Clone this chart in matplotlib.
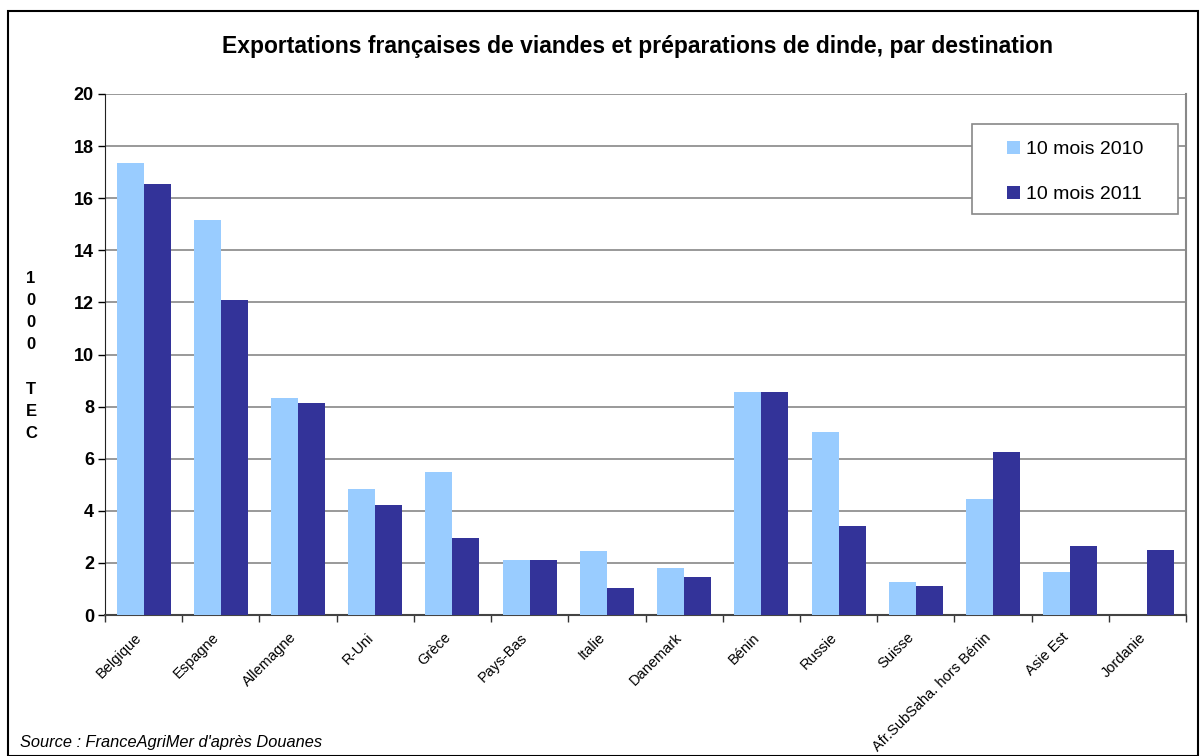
import numpy as np
import matplotlib
matplotlib.use("Agg")
import matplotlib.pyplot as plt
from matplotlib.patches import Rectangle
from matplotlib.transforms import ScaledTranslation

plt.rcParams["font.family"] = ["Liberation Sans", "DejaVu Sans"]

destinations = ["Belgique", "Espagne", "Allemagne", "R-Uni", "Grèce", "Pays-Bas",
                "Italie", "Danemark", "Bénin", "Russie", "Suisse",
                "Afr.SubSaha. hors Bénin", "Asie Est", "Jordanie"]
mois_2010 = [17.35, 15.16, 8.33, 4.84, 5.49, 2.11, 2.46, 1.80, 8.56, 7.02, 1.27, 4.45, 1.65, 0.0]
mois_2011 = [16.55, 12.09, 8.14, 4.22, 2.96, 2.11, 1.04, 1.46, 8.56, 3.42, 1.11, 6.26, 2.65, 2.49]
series_labels = ["10 mois 2010", "10 mois 2011"]
colors = ["#99CCFF", "#333399"]

fig = plt.figure(figsize=(12.01, 7.56), dpi=100)
ax = fig.add_axes([105 / 1201, 1 - 615 / 756, (1186 - 105) / 1201, (615 - 94) / 756])

x = np.arange(len(destinations))
w = 0.35
ax.bar(x - w / 2, mois_2010, w, color=colors[0], label=series_labels[0], zorder=3)
ax.bar(x + w / 2, mois_2011, w, color=colors[1], label=series_labels[1], zorder=3)

ax.set_xlim(-0.5, len(destinations) - 0.5)
ax.set_ylim(0, 20)
ax.set_yticks(np.arange(0, 21, 2))
ax.yaxis.grid(True, color="#888888", linewidth=1.2, zorder=0)
ax.tick_params(axis="y", labelsize=13, length=5, width=1, pad=3)
for lbl in ax.get_yticklabels():
    lbl.set_fontweight("bold")

# category boundary ticks, labels at centres
ax.set_xticks(np.arange(-0.5, len(destinations), 1.0), minor=True)
ax.set_xticks(x)
ax.tick_params(axis="x", which="minor", length=5, width=1, color="#333333")
ax.tick_params(axis="x", which="major", length=0, pad=11)
ax.set_xticklabels(destinations, rotation=45, ha="right", rotation_mode="anchor", fontsize=10.5)
offset = ScaledTranslation(-9 / 100, 0, fig.dpi_scale_trans)
for lbl in ax.get_xticklabels():
    lbl.set_transform(lbl.get_transform() + offset)

ax.spines["top"].set_visible(False)
ax.spines["right"].set_color("#888888")
ax.spines["right"].set_linewidth(1.5)
ax.spines["left"].set_color("#222222")
ax.spines["bottom"].set_color("#444444")
ax.spines["bottom"].set_linewidth(1.5)

# legend box drawn separately so its padding can match
box = Rectangle((972 / 1201, 1 - 214 / 756), 206 / 1201, 90 / 756,
                transform=fig.transFigure, facecolor="white",
                edgecolor="#888888", linewidth=1.2, zorder=5, clip_on=False)
ax.add_artist(box)
leg = ax.legend(loc="center", bbox_to_anchor=(1075 / 1201, 1 - 172 / 756),
                bbox_transform=fig.transFigure, fontsize=14, frameon=False,
                labelspacing=1.4, handlelength=0.7, handleheight=0.7,
                handletextpad=0.3, borderpad=0)
leg.set_zorder(6)

fig.text(638 / 1201, 1 - 47 / 756,
         "Exportations françaises de viandes et préparations de dinde, par destination",
         ha="center", va="center", fontsize=16.5, fontweight="bold")
fig.text(31 / 1201, 1 - 356 / 756, "1\n0\n0\n0\n\nT\nE\nC", ha="center", va="center",
         fontsize=12, fontweight="bold", linespacing=1.6)
fig.text(20 / 1201, 1 - 743 / 756, "Source : FranceAgriMer d'après Douanes",
         ha="left", va="center", fontsize=11.8, style="italic")

fig.patches.append(Rectangle((8 / 1201, 0), 1190 / 1201, 1 - 11 / 756, transform=fig.transFigure,
                             fill=False, edgecolor="black", linewidth=1.5))

fig.savefig("out.png", dpi=100)
